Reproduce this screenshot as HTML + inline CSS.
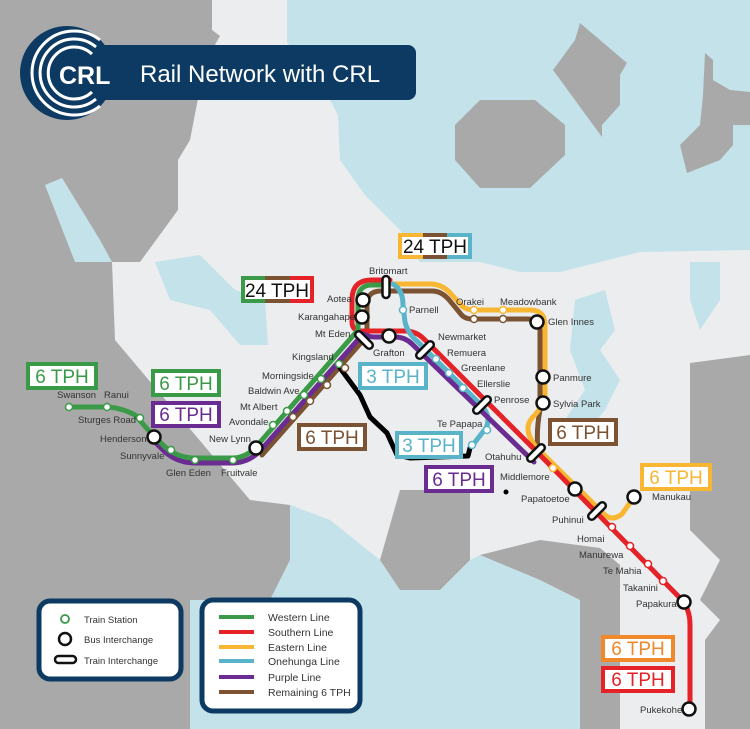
<!DOCTYPE html>
<html><head><meta charset="utf-8"><style>
html,body{margin:0;padding:0;width:750px;height:729px;overflow:hidden;background:#c3e2ea}
svg{display:block}
text{font-family:"Liberation Sans",sans-serif}
.s{font-size:9.5px;fill:#333}
.t{font-size:19px}
</style></head><body>
<svg width="750" height="729" viewBox="0 0 750 729" xmlns="http://www.w3.org/2000/svg">
<rect width="750" height="729" fill="#ebedee"/>
<g fill="#c3e2ea">
<polygon points="287,0 750,0 750,250 640,252 600,262 560,272 520,272 480,262 420,262 400,230 365,195 340,160 338,115 330,100 287,42"/>
<polygon points="155,262 200,255 235,290 265,300 268,345 240,345 210,310 170,300"/>
<polygon points="45,185 62,178 100,240 112,262 75,262"/>
<polygon points="190,600 270,600 290,560 290,505 330,520 380,560 400,590 440,590 470,560 480,555 540,580 580,600 580,729 190,729"/>
<polygon points="575,300 605,290 615,330 600,350 620,380 605,410 580,440 565,420 585,390 570,350"/>
<polygon points="690,262 720,262 720,300 700,330 690,300"/>
</g>
<g fill="#a9a9a9">
<polygon points="0,0 212,0 212,30 220,36 205,62 190,140 178,160 178,210 140,262 112,262 100,240 62,178 45,185 0,185"/>
<polygon points="0,185 45,185 75,262 112,262 115,340 250,500 290,505 290,560 270,600 190,600 190,729 0,729"/>
<polygon points="400,490 470,490 470,560 440,590 400,590 380,560"/>
<polygon points="480,555 540,540 600,548 620,565 620,729 580,729 580,600 540,580"/>
<polygon points="690,363 750,355 750,729 705,729 705,640 720,620 700,600 720,560 690,530 690,480"/>
<polygon points="480,100 535,100 565,125 565,155 530,188 480,188 455,160 455,125"/>
<polygon points="580,23 627,63 620,75 620,105 602,125 602,137 553,70 575,40"/>
<polygon points="705,53 713,60 713,80 730,90 750,92 750,125 733,125 733,145 720,160 687,173 680,145 700,125 703,95"/>
</g>
<rect x="70" y="45" width="346" height="55" rx="8" fill="#0d3a63"/>
<circle cx="67" cy="73" r="47" fill="#0d3a63"/>
<g fill="none" stroke="#fff" stroke-width="3">
<path d="M100,40 A42,42 0 1,0 100,106"/>
<path d="M96,47 A34,34 0 1,0 96,99"/>
<path d="M92,54 A26,26 0 1,0 92,92"/>
</g>
<text x="59" y="84" font-size="25" font-weight="bold" fill="#fff">CRL</text>
<text x="140" y="82" font-size="24" fill="#fff">Rail Network with CRL</text>

<g fill="none" stroke-width="5" stroke-linejoin="round" stroke-linecap="round">
<path stroke="#7b5232" d="M262,455 L367,336 L367,305 Q367,291 381,291 L432,291 Q442,291 450,301 L460,313 Q464,319 472,319 L528,319 Q540,319 540,331 L540,410 Q536,430 538,452"/>
<path stroke="#f8b633" d="M386,284 L430,284 Q443,284 452,295 L462,306 Q466,310 475,310 L530,310 Q545,310 545,325 L545,400 Q540,410 532,418 Q522,430 537,448 L604,514 Q612,522 622,514 L634,497"/>
<path stroke="#e42227" d="M390,280 L372,280 Q352,280 352,300 L352,322 Q352,331 362,331 L405,331 Q416,331 424,339 L540,455 L680,598 Q690,608 690,625 L690,709"/>
<path stroke="#5ab4c9" d="M393,284 Q403,290 403,305 L405,322 Q408,334 418,342 L480,404 Q492,416 486,428 L472,446"/>
<path stroke="#6b2c91" d="M150,437 L165,452 Q178,463 195,463 L232,463 Q248,463 260,451 L363,334 Q368,337 375,337 L395,337 Q405,337 412,344 L534,462"/>
<path stroke="#3a9a47" d="M69,407 L105,407 Q120,407 135,415 L150,432 L165,447 Q178,458 195,458 L232,458 Q245,458 255,448 L358,330 L358,300 Q358,285 372,285 L386,285"/>
<path stroke="#000" stroke-width="5" d="M340,368 L360,395 L370,417 L387,433 L397,455 L410,458 L468,456 L470,448"/>
</g>
<g fill="#fff" stroke-width="1.5">
<g stroke="#3a9a47"><circle cx="69" cy="407" r="3.5"/><circle cx="107" cy="407" r="3.5"/><circle cx="140" cy="418" r="3.5"/><circle cx="171" cy="450" r="3.5"/><circle cx="195" cy="460" r="3.5"/><circle cx="233" cy="460" r="3.5"/><circle cx="273" cy="425" r="3.5"/><circle cx="287" cy="411" r="3.5"/><circle cx="304" cy="395" r="3.5"/><circle cx="321" cy="379" r="3.5"/><circle cx="339" cy="364" r="3.5"/></g>
<g stroke="#7b5232"><circle cx="293" cy="417" r="3.5"/><circle cx="310" cy="401" r="3.5"/><circle cx="327" cy="385" r="3.5"/><circle cx="345" cy="368" r="3.5"/><circle cx="474" cy="319" r="3.5"/><circle cx="503" cy="319" r="3.5"/></g>
<g stroke="#f8b633"><circle cx="474" cy="310" r="3.5"/><circle cx="503" cy="310" r="3.5"/><circle cx="553" cy="468" r="3.5"/></g>
<g stroke="#5ab4c9"><circle cx="403" cy="310" r="3.5"/><circle cx="436" cy="359" r="3.5"/><circle cx="449" cy="373" r="3.5"/><circle cx="463" cy="388" r="3.5"/><circle cx="487" cy="430" r="3.5"/><circle cx="472" cy="445" r="3.5"/></g>
<g stroke="#e42227"><circle cx="612" cy="527" r="3.5"/><circle cx="630" cy="546" r="3.5"/><circle cx="648" cy="564" r="3.5"/><circle cx="663" cy="581" r="3.5"/></g>
</g>
<g fill="#fff" stroke="#111" stroke-width="2.5">
<circle cx="154" cy="437" r="6.5"/><circle cx="256" cy="448" r="6.5"/><circle cx="363" cy="300" r="6.5"/><circle cx="362" cy="317" r="6.5"/><circle cx="389" cy="336" r="6.5"/><circle cx="537" cy="322" r="6.5"/><circle cx="543" cy="377" r="6.5"/><circle cx="543" cy="403" r="6.5"/><circle cx="575" cy="489" r="6.5"/><circle cx="634" cy="497" r="6.5"/><circle cx="684" cy="602" r="6.5"/><circle cx="689" cy="709" r="6.5"/>
</g>
<circle cx="506" cy="492" r="2.5" fill="#000"/>
<g fill="#fff" stroke="#111" stroke-width="2.5">
<rect x="-11" y="-3.5" width="22" height="7" rx="3.5" transform="translate(386,287) rotate(90)"/>
<rect x="-11" y="-3.5" width="22" height="7" rx="3.5" transform="translate(364,340) rotate(45)"/>
<rect x="-11" y="-3.5" width="22" height="7" rx="3.5" transform="translate(425,350) rotate(-45)"/>
<rect x="-11" y="-3.5" width="22" height="7" rx="3.5" transform="translate(482,405) rotate(-45)"/>
<rect x="-11" y="-3.5" width="22" height="7" rx="3.5" transform="translate(536,453) rotate(-45)"/>
<rect x="-11" y="-3.5" width="22" height="7" rx="3.5" transform="translate(597,511) rotate(-45)"/>
</g>
<g class="s">
<text x="57" y="398">Swanson</text><text x="104" y="398">Ranui</text>
<text x="78" y="423">Sturges Road</text><text x="100" y="442">Henderson</text>
<text x="120" y="459">Sunnyvale</text><text x="166" y="476">Glen Eden</text><text x="221" y="476">Fruitvale</text>
<text x="209" y="442">New Lynn</text><text x="229" y="425">Avondale</text><text x="240" y="410">Mt Albert</text>
<text x="248" y="394">Baldwin Ave</text><text x="262" y="379">Morningside</text><text x="292" y="360">Kingsland</text>
<text x="315" y="337">Mt Eden</text><text x="298" y="320">Karangahape</text><text x="327" y="302">Aotea</text>
<text x="369" y="274">Britomart</text><text x="409" y="313">Parnell</text><text x="373" y="356">Grafton</text>
<text x="438" y="340">Newmarket</text><text x="447" y="356">Remuera</text><text x="461" y="371">Greenlane</text>
<text x="477" y="387">Ellerslie</text><text x="494" y="403">Penrose</text><text x="437" y="427">Te Papapa</text>
<text x="485" y="460">Otahuhu</text><text x="500" y="480">Middlemore</text><text x="521" y="502">Papatoetoe</text>
<text x="552" y="523">Puhinui</text><text x="577" y="542">Homai</text><text x="579" y="558">Manurewa</text>
<text x="603" y="574">Te Mahia</text><text x="623" y="591">Takanini</text><text x="636" y="607">Papakura</text>
<text x="640" y="713">Pukekohe</text><text x="652" y="500">Manukau</text>
<text x="456" y="305">Orakei</text><text x="500" y="305">Meadowbank</text><text x="548" y="325">Glen Innes</text>
<text x="553" y="381">Panmure</text><text x="553" y="407">Sylvia Park</text>
</g>
<g stroke-width="4" fill="#fff">
<rect x="28" y="364" width="68" height="24" stroke="#3a9a47"/>
<rect x="153" y="371" width="66" height="24" stroke="#3a9a47"/>
<rect x="153" y="403" width="66" height="23" stroke="#6b2c91"/>
<rect x="299" y="425" width="66" height="24" stroke="#7b5232"/>
<rect x="360" y="364" width="66" height="24" stroke="#5ab4c9"/>
<rect x="397" y="433" width="64" height="24" stroke="#5ab4c9"/>
<rect x="426" y="467" width="66" height="24" stroke="#6b2c91"/>
<rect x="550" y="420" width="66" height="24" stroke="#7b5232"/>
<rect x="642" y="465" width="68" height="24" stroke="#f8b633"/>
<rect x="603" y="637" width="70" height="23" stroke="#f0892c"/>
<rect x="603" y="668" width="70" height="23" stroke="#e42227"/>
</g>
<g>
<rect x="398" y="233" width="74" height="26" fill="#5ab4c9"/><rect x="398" y="233" width="25" height="26" fill="#f8b633"/><rect x="423" y="233" width="24" height="26" fill="#7b5232"/>
<rect x="402" y="237" width="66" height="18" fill="#fff"/>
<rect x="241" y="276" width="73" height="27" fill="#e42227"/><rect x="241" y="276" width="24" height="27" fill="#3a9a47"/><rect x="265" y="276" width="25" height="27" fill="#7b5232"/>
<rect x="245" y="280" width="65" height="19" fill="#fff"/>
</g>
<g class="t" text-anchor="middle">
<text x="435" y="253" fill="#111">24 TPH</text>
<text x="277" y="297" fill="#111">24 TPH</text>
<text x="62" y="383" fill="#3a9a47">6 TPH</text>
<text x="186" y="390" fill="#3a9a47">6 TPH</text>
<text x="186" y="421" fill="#6b2c91">6 TPH</text>
<text x="332" y="444" fill="#7b5232">6 TPH</text>
<text x="393" y="383" fill="#5ab4c9">3 TPH</text>
<text x="429" y="452" fill="#5ab4c9">3 TPH</text>
<text x="459" y="486" fill="#6b2c91">6 TPH</text>
<text x="583" y="439" fill="#7b5232">6 TPH</text>
<text x="676" y="484" fill="#f8b633">6 TPH</text>
<text x="638" y="655" fill="#f0892c">6 TPH</text>
<text x="638" y="686" fill="#e42227">6 TPH</text>
</g>
<rect x="39" y="601" width="142" height="78" rx="11" fill="#fff" stroke="#0d3a63" stroke-width="5"/>
<circle cx="65" cy="619" r="4" fill="#fff" stroke="#3a9a47" stroke-width="1.8"/>
<circle cx="65" cy="639" r="6" fill="#fff" stroke="#111" stroke-width="2.5"/>
<rect x="55" y="656" width="21" height="7" rx="3.5" fill="#fff" stroke="#111" stroke-width="2.5"/>
<g font-size="9.5" fill="#333"><text x="84" y="623">Train Station</text><text x="84" y="643">Bus Interchange</text><text x="84" y="664">Train Interchange</text></g>
<rect x="202" y="600" width="158" height="111" rx="11" fill="#fff" stroke="#0d3a63" stroke-width="5"/>
<g stroke-width="4"><line x1="219" y1="617" x2="254" y2="617" stroke="#3a9a47"/><line x1="219" y1="632" x2="254" y2="632" stroke="#e42227"/><line x1="219" y1="647" x2="254" y2="647" stroke="#f8b633"/><line x1="219" y1="661" x2="254" y2="661" stroke="#5ab4c9"/><line x1="219" y1="677" x2="254" y2="677" stroke="#6b2c91"/><line x1="219" y1="692" x2="254" y2="692" stroke="#7b5232"/></g>
<g font-size="10.5" fill="#333"><text x="268" y="621">Western Line</text><text x="268" y="636">Southern Line</text><text x="268" y="651">Eastern Line</text><text x="268" y="665">Onehunga Line</text><text x="268" y="681">Purple Line</text><text x="268" y="696">Remaining 6 TPH</text></g>
</svg>
</body></html>
